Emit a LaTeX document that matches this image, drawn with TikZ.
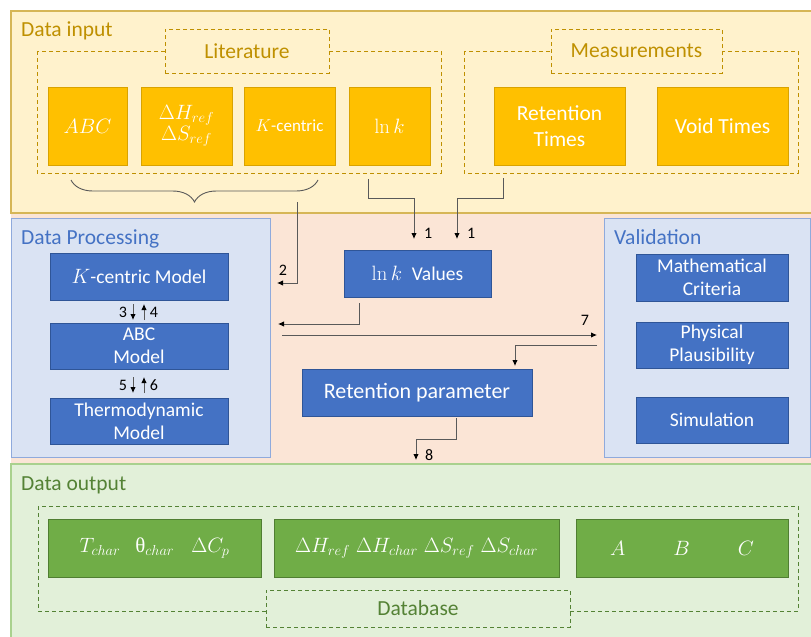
\documentclass[tikz,border=0pt]{standalone}
\usepackage[no-math]{fontspec}
\setmainfont{Carlito}
\newfontfamily\grk{Liberation Serif}
\usetikzlibrary{arrows.meta,decorations.pathreplacing}
\definecolor{infill}{HTML}{FFF2CC}
\definecolor{inbord}{HTML}{D6B656}
\definecolor{intext}{HTML}{BF9000}
\definecolor{yfill}{HTML}{FFC000}
\definecolor{ybord}{HTML}{D9A300}
\definecolor{midfill}{HTML}{FBE5D6}
\definecolor{pfill}{HTML}{DAE3F3}
\definecolor{pbord}{HTML}{8FAADC}
\definecolor{ptext}{HTML}{4472C4}
\definecolor{bfill}{HTML}{4472C4}
\definecolor{bbord}{HTML}{2F5597}
\definecolor{gbandfill}{HTML}{E2F0D9}
\definecolor{gbandbord}{HTML}{A9D18E}
\definecolor{gtext}{HTML}{548235}
\definecolor{gfill}{HTML}{70AD47}
\definecolor{gbord}{HTML}{507E32}
\definecolor{connc}{HTML}{595959}
\tikzset{
  box/.style={line width=0.8pt, text=white, align=center, inner sep=0pt},
  ybox/.style={box, draw=ybord, fill=yfill, minimum height=78pt},
  bbox/.style={box, draw=bbord, fill=bfill},
  gbox/.style={box, draw=gbord, fill=gfill, minimum height=58pt, font=\fontsize{21}{24}\selectfont},
  grouptitle/.style={anchor=base west, inner sep=0pt, font=\fontsize{21.5}{25}\selectfont},
  dashgroup/.style={dashed, dash pattern=on 4pt off 3pt, line width=0.9pt},
  conn/.style={draw=connc, line width=0.9pt, -{Latex[length=6pt,width=5.5pt,fill=black,color=black]}},
  lbl/.style={inner sep=0pt, text=black, font=\fontsize{16}{18}\selectfont},
  bracestyle/.style={draw=connc, line width=0.9pt, decorate, decoration={brace, amplitude=22pt}}
}
\begin{document}
\begin{tikzpicture}[x=1pt,y=-1pt]
\useasboundingbox (0,0) rectangle (811,637);
\fill[white] (0,0) rectangle (811,637);

% ---------- bands ----------
\draw[fill=midfill, draw=none] (11,213) rectangle (813,464);
\draw[fill=infill, draw=inbord, line width=1.2pt] (11,11) rectangle (813,213);
\draw[fill=gbandfill, draw=gbandbord, line width=1.2pt] (11,464) rectangle (813,640);
\draw[fill=pfill, draw=pbord, line width=1pt] (11,218) rectangle (270,457);
\draw[fill=pfill, draw=pbord, line width=1pt] (604,218) rectangle (810,457);

% ---------- titles ----------
\node[grouptitle, text=intext] (tin) at (21,36) {Data input};
\node[grouptitle, text=ptext] (tproc) at (21,244) {Data Processing};
\node[grouptitle, text=ptext] (tval) at (614,244) {Validation};
\node[grouptitle, text=gtext] (tout) at (21,490) {Data output};

% ---------- data input ----------
\draw[dashgroup, draw=intext] (37,51) rectangle (441,173);
\draw[dashgroup, draw=intext] (464,51) rectangle (798,173);
\node[dashgroup, draw=intext, fill=infill, text=intext, minimum width=164pt, minimum height=44pt,
      font=\fontsize{21.5}{25}\selectfont, inner sep=0pt] (lit) at (247,51) {Literature};
\node[dashgroup, draw=intext, fill=infill, text=intext, minimum width=171pt, minimum height=44pt,
      font=\fontsize{21.5}{25}\selectfont, inner sep=0pt] (meas) at (636.5,51) {Measurements};

\node[ybox, minimum width=79pt, font=\fontsize{20}{24}\selectfont] (abc) at (87.5,126) {$ABC$};
\node[ybox, minimum width=91pt, font=\fontsize{20.5}{24}\selectfont] (dh) at (186.5,126)
  {$\Delta H_{ref}$\\[-3pt]$\Delta S_{ref}$};
\node[ybox, minimum width=91pt, font=\fontsize{17}{20}\selectfont] (kc) at (289.5,126) {$K$-centric};
\node[ybox, minimum width=81pt, font=\fontsize{21.5}{24}\selectfont] (lnk) at (389.5,126) {$\ln k$};
\node[ybox, minimum width=131pt, font=\fontsize{21.5}{26}\selectfont] (rt) at (559.5,126) {Retention\\Times};
\node[ybox, minimum width=131pt, font=\fontsize{21.5}{26}\selectfont] (vt) at (722.5,126) {Void Times};

\coordinate (braceR) at (318,180);
\coordinate (braceL) at (71,180);
\draw[bracestyle] (braceR) -- (braceL);

% ---------- processing ----------
\node[bbox, minimum width=178pt, minimum height=47pt, font=\fontsize{19.5}{23}\selectfont] (kcm) at (139,276.5) {$K$-centric Model};
\node[bbox, minimum width=178pt, minimum height=46pt, font=\fontsize{19.5}{23}\selectfont] (abcm) at (139,346) {ABC\\Model};
\node[bbox, minimum width=178pt, minimum height=46pt, font=\fontsize{19.5}{23}\selectfont] (thm) at (139,421) {Thermodynamic\\Model};

\node[bbox, minimum width=147pt, minimum height=47pt, font=\fontsize{19.5}{23}\selectfont] (lnkv) at (417.5,273.5) {{\fontsize{21.5}{24}\selectfont$\ln k$}\enspace Values};
\node[bbox, minimum width=230pt, minimum height=47pt, font=\fontsize{22}{26}\selectfont] (retp) at (417,392.5) {Retention parameter};

\node[bbox, minimum width=152pt, minimum height=47pt, font=\fontsize{19.5}{23}\selectfont] (mc) at (712,277.5) {Mathematical\\Criteria};
\node[bbox, minimum width=152pt, minimum height=46pt, font=\fontsize{19.5}{23}\selectfont] (pp) at (712,345) {Physical\\Plausibility};
\node[bbox, minimum width=152pt, minimum height=46pt, font=\fontsize{19.5}{23}\selectfont] (sim) at (712,420) {Simulation};

% ---------- output ----------
\draw[dashgroup, draw=gtext] (38,506) rectangle (798,611);
\node[dashgroup, draw=gtext, fill=gbandfill, text=gtext, minimum width=304pt, minimum height=37pt,
      font=\fontsize{21.5}{25}\selectfont, inner sep=0pt] (db) at (418,608.5) {Database};
\node[gbox, minimum width=213pt] (o1) at (154.5,548)
  {$T_{char}$\hspace{15pt}{\grk θ}$_{char}$\hspace{17pt}$\Delta C_p$};
\node[gbox, minimum width=285pt] (o2) at (416.5,548)
  {$\Delta H_{ref}$\hspace{6pt}$\Delta H_{char}$\hspace{6pt}$\Delta S_{ref}$\hspace{6pt}$\Delta S_{char}$};
\node[gbox, minimum width=212pt] (o3) at (682,548) {$A$\hspace{48pt}$B$\hspace{48pt}$C$};

% ---------- connectors ----------
\coordinate (a1s) at (368,179);  \coordinate (a1m) at (414,198);  \coordinate (a1e) at (414,239);
\draw[conn] (a1s) |- (a1m) -- (a1e);
\node[lbl, anchor=west] (l1a) at (424,233) {1};

\coordinate (b1s) at (503,178);  \coordinate (b1m) at (457,198);  \coordinate (b1e) at (457,239);
\draw[conn] (b1s) |- (b1m) -- (b1e);
\node[lbl, anchor=west] (l1b) at (467,233) {1};

\coordinate (c2s) at (297,202);  \coordinate (c2e) at (277,283);
\draw[conn] (c2s) |- (c2e);
\node[lbl] (l2) at (283,270) {2};

\coordinate (dls) at (359,303);  \coordinate (dle) at (278,324);
\draw[conn] (dls) |- (dle);

\coordinate (e7s) at (282,335);  \coordinate (e7e) at (597,335);
\draw[conn] (e7s) -- (e7e);
\node[lbl] (l7) at (585,320) {7};

\coordinate (fvs) at (597,345);  \coordinate (fve) at (515,366);
\draw[conn] (fvs) -| (fve);

\coordinate (g8s) at (456,418);  \coordinate (g8m) at (416,439);  \coordinate (g8e) at (416,460);
\draw[conn] (g8s) |- (g8m) -- (g8e);
\node[lbl, anchor=west] (l8) at (425,455) {8};

% 3/4 and 5/6
\coordinate (d3s) at (133,304); \coordinate (d3e) at (133,320);
\coordinate (u4s) at (144,320); \coordinate (u4e) at (144,304);
\draw[conn] (d3s) -- (d3e);
\draw[conn] (u4s) -- (u4e);
\node[lbl] (l3) at (123,312) {3};
\node[lbl] (l4) at (154,312) {4};

\coordinate (d5s) at (133,377); \coordinate (d5e) at (133,393);
\coordinate (u6s) at (144,393); \coordinate (u6e) at (144,377);
\draw[conn] (d5s) -- (d5e);
\draw[conn] (u6s) -- (u6e);
\node[lbl] (l5) at (123,385) {5};
\node[lbl] (l6) at (154,385) {6};
\end{tikzpicture}
\end{document}
